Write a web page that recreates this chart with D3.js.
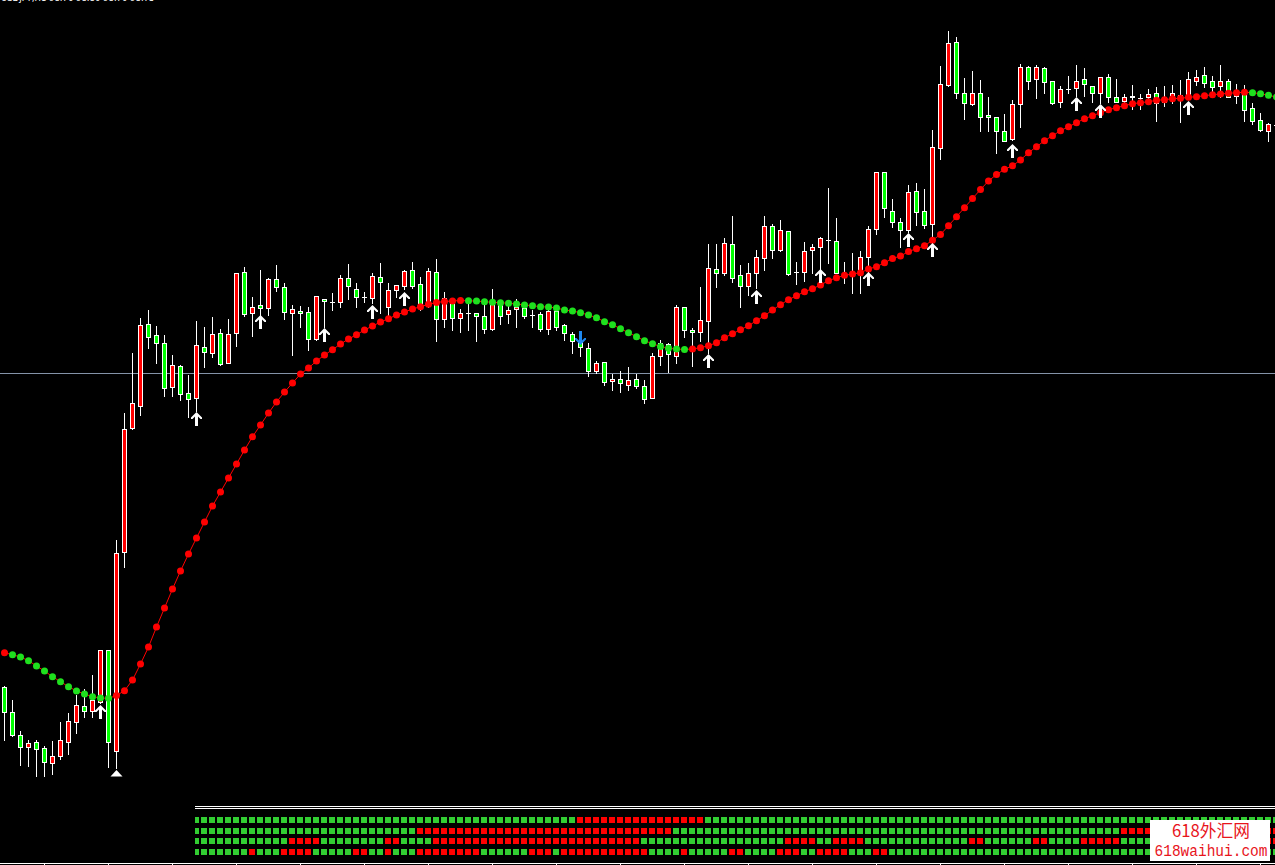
<!DOCTYPE html>
<html><head><meta charset="utf-8">
<script src="https://cdn.jsdelivr.net/npm/d3@7"></script>
<style>html,body{margin:0;padding:0;background:#000;overflow:hidden}</style>
</head><body><svg id="c" width="1275" height="865"></svg>
<script>
// ---- DATA (price values) ----
const symbolLabel = "USDJPY,H1  98.76 98.80 98.70 98.75";
const openP = [93.13,92.88,92.65,92.53,92.58,92.52,92.37,92.44,92.58,92.78,92.94,92.89,92.98,93.50,92.49,94.48,95.72,95.94,96.76,96.65,
96.57,96.13,96.34,96.07,96.02,96.53,96.47,96.67,96.37,96.67,97.28,96.87,96.95,96.92,97.21,97.13,96.87,96.89,96.88,96.61,
97.01,96.98,96.98,97.22,97.11,97.03,97.02,97.23,96.93,97.10,97.14,97.30,97.16,96.94,97.28,96.81,96.98,96.82,96.87,96.87,
96.84,96.71,96.96,96.86,96.91,96.92,96.85,96.86,96.71,96.89,96.75,96.66,96.59,96.52,96.29,96.38,96.19,96.21,96.15,96.21,
96.14,96.02,96.44,96.56,96.44,96.93,96.70,96.68,96.79,97.31,97.27,97.56,97.25,97.14,97.27,97.42,97.74,97.50,97.69,97.28,
97.28,97.50,97.53,97.60,97.59,97.27,97.27,97.27,97.43,97.71,98.28,97.89,97.78,97.70,98.09,97.89,97.76,98.52,99.15,99.58,
99.07,98.96,99.07,98.85,98.83,98.69,98.61,98.96,99.33,99.21,99.32,99.19,98.98,99.11,99.12,99.21,99.14,99.07,99.23,99.03,
98.99,99.04,99.02,99.03,99.07,98.98,99.03,99.05,99.05,99.19,99.25,99.19,99.14,99.19,99.04,99.06,98.92,98.80,98.69,98.75];
const highP = [93.14,93.00,92.69,92.60,92.60,92.54,92.59,92.78,92.87,93.05,93.11,93.25,93.50,93.50,94.60,95.87,96.47,96.82,96.90,96.74,
96.65,96.45,96.35,96.25,96.79,96.73,96.83,96.71,96.81,97.27,97.33,97.03,97.30,97.22,97.35,97.17,96.95,96.94,96.93,97.04,
97.01,97.07,97.25,97.36,97.17,97.08,97.27,97.37,97.17,97.15,97.30,97.38,97.23,97.32,97.41,97.08,97.02,96.91,96.97,96.87,
97.00,97.11,97.00,96.97,97.01,96.97,96.90,96.88,96.90,96.93,96.76,96.68,96.67,96.57,96.39,96.38,96.26,96.29,96.33,96.26,
96.20,96.47,96.60,96.57,96.95,96.93,96.72,97.13,97.56,97.56,97.62,97.84,97.35,97.37,97.50,97.84,97.76,97.80,97.69,97.38,
97.58,97.56,97.63,98.12,97.82,97.38,97.47,97.49,97.74,98.28,98.28,98.01,97.82,98.15,98.17,98.11,98.70,99.34,99.69,99.63,
99.22,99.29,99.20,99.03,98.83,98.86,99.00,99.36,99.34,99.35,99.33,99.19,99.14,99.24,99.35,99.32,99.14,99.23,99.26,99.21,
99.06,99.15,99.06,99.11,99.13,99.14,99.15,99.20,99.28,99.30,99.33,99.24,99.35,99.21,99.16,99.15,98.97,98.87,98.77,98.80];
const lowP = [92.60,92.64,92.35,92.34,92.24,92.24,92.26,92.41,92.46,92.67,92.83,92.83,92.97,92.33,92.32,94.33,95.71,95.85,96.52,96.37,
96.04,96.04,96.00,95.83,95.89,96.33,96.43,96.35,96.37,96.54,96.84,96.64,96.85,96.85,97.09,96.81,96.45,96.73,96.50,96.60,
96.73,96.90,96.93,97.01,96.93,96.98,96.97,96.87,96.84,97.03,97.11,97.12,96.90,96.93,96.59,96.73,96.70,96.68,96.70,96.59,
96.67,96.70,96.76,96.77,96.73,96.82,96.73,96.69,96.66,96.70,96.60,96.47,96.44,96.24,96.27,96.15,96.10,96.08,96.10,96.12,
95.97,96.02,96.35,96.28,96.37,96.63,96.34,96.59,96.47,97.13,97.25,97.18,96.93,97.05,97.12,97.30,97.42,97.49,97.25,97.16,
97.19,97.27,97.30,97.37,97.27,97.17,97.07,97.07,97.28,97.66,97.83,97.73,97.53,97.68,97.75,97.72,97.62,98.41,99.14,99.02,
98.81,98.95,98.69,98.69,98.47,98.59,98.60,98.73,99.11,99.02,99.07,98.96,98.93,99.07,99.04,99.04,98.98,98.97,98.98,98.98,
98.92,98.91,98.91,98.98,98.79,98.94,98.97,98.78,99.03,99.15,99.13,99.09,99.03,99.03,98.97,98.79,98.76,98.69,98.59,98.70];
const closeP = [92.88,92.65,92.53,92.57,92.51,92.38,92.44,92.60,92.79,92.95,92.89,93.00,93.50,92.58,94.47,95.71,95.97,96.75,96.63,96.57,
96.12,96.35,96.06,96.01,96.55,96.48,96.66,96.36,96.66,97.27,96.86,96.93,96.92,97.21,97.13,96.88,96.91,96.87,96.61,97.04,
96.99,96.98,97.22,97.14,97.03,97.03,97.24,97.18,97.10,97.15,97.29,97.14,96.96,97.29,96.81,97.02,96.82,96.87,96.87,96.84,
96.71,96.97,96.84,96.90,96.93,96.84,96.85,96.71,96.89,96.73,96.67,96.59,96.53,96.29,96.37,96.18,96.21,96.17,96.20,96.14,
96.01,96.44,96.57,96.46,96.93,96.70,96.68,96.80,97.32,97.27,97.57,97.22,97.14,97.27,97.43,97.74,97.50,97.70,97.26,97.28,
97.49,97.53,97.62,97.60,97.27,97.27,97.27,97.43,97.71,98.28,97.92,97.78,97.70,98.08,97.88,97.75,98.53,99.16,99.57,99.07,
98.97,99.07,98.83,98.83,98.69,98.59,98.96,99.33,99.19,99.33,99.18,98.97,99.11,99.11,99.19,99.16,99.07,99.23,99.03,98.98,
99.03,99.03,99.02,99.06,98.97,99.03,99.07,99.05,99.21,99.23,99.17,99.13,99.19,99.03,99.07,98.90,98.79,98.70,98.76,98.75];
// moving-average style trend line (one value per bar)
const trendMA = [93.473,93.453,93.43,93.393,93.34,93.29,93.233,93.183,93.133,93.09,93.06,93.033,93.02,93.017,93.045,93.093,93.2,93.36,93.53,93.73,
93.92,94.11,94.29,94.46,94.62,94.78,94.94,95.08,95.22,95.36,95.5,95.633,95.75,95.87,95.98,96.08,96.17,96.26,96.32,96.39,
96.45,96.503,96.56,96.61,96.653,96.7,96.74,96.78,96.813,96.85,96.88,96.91,96.933,96.957,96.975,96.985,96.991,96.994,96.992,96.989,
96.983,96.977,96.973,96.967,96.96,96.95,96.943,96.933,96.929,96.92,96.9,96.89,96.873,96.85,96.823,96.783,96.753,96.713,96.673,96.633,
96.593,96.563,96.535,96.517,96.509,96.506,96.51,96.523,96.543,96.573,96.623,96.663,96.703,96.743,96.793,96.843,96.9,96.953,97.003,97.043,
97.083,97.113,97.15,97.193,97.223,97.247,97.26,97.273,97.31,97.333,97.373,97.415,97.44,97.485,97.513,97.542,97.598,97.655,97.743,97.833,
97.923,98.015,98.105,98.19,98.255,98.307,98.343,98.4,98.473,98.533,98.593,98.643,98.693,98.733,98.773,98.813,98.843,98.873,98.903,98.923,
98.943,98.963,98.973,98.983,98.997,99.003,99.013,99.017,99.027,99.033,99.043,99.053,99.06,99.067,99.073,99.077,99.073,99.063,99.047,99.03];
// buy arrows: bar index and price level of the arrow tip
const buyArrowBar = [12,24,32,40,46,50,88,94,102,108,113,116,126,134,137,148];
const buyArrowPrice = [92.95,95.88,96.85,96.72,96.95,97.08,96.46,97.10,97.31,97.28,97.67,97.57,98.56,99.03,98.96,98.99];
const sellArrowBar = [72];
const sellArrowPrice = [96.69];   // price at the arrow tail (top)
const markerBar = [14];
const markerPrice = [92.30];
const levelLine = 96.27;
// signal bars panel: first bar with a visible cell, then 4 rows (G = up, R = down)
const signalStart = 24;
const signalRows = [
 "GGGGGG GGGGGGGGGG GGGGGGGGGG GGGGGGGGGG GGGGGGGGGG GGRRRRRRRR RRRRRRRRGG GGGGGGGGGG GGGGGGGGGG GGGGGGGGGG GGGGGGGGGG GGGGGGGGGG GGGGGGGGGG GGGGGGGGGG",
 "GGGGGG GGGGGGGGGG GGGGGGGGGG GGRRRRRRRR RRRRRRRRRR RRRRRRRRRR RRRRGGGGGG GGGGGGGGGG GGGGGGGGGG GGGGGGGGGG GGGGGGGGGG GGGGGGGGGG RRRRGGGGGG GGGGGGRRRR",
 "GGGGGG GGGGGGRRRR GGGGGGGGRR GGGGRRRRRR RRRRRRRRRR RRRRRRRRRR GGGGGGGGGG GGGGGGGGRR RRGGRRRRGG GGGGGGGGGG GRRGGGGGGR RGGGGRRRRR GGGGGGGGGG GGGGGGRRRR",
 "GGGGGG GRGGGRRRRG GGGGRRGGRG GGRRRRRRRR GGGGGGRRRG RRRRRRRRRR RGGGGRGGGG GRRGGGGRRR GGRRRRGGGR RGGGGGGGGG GGGGGGGGGG GGGGGGGGGG GGGGGGGGGG GGGGGGGGGG"
].map(s => s.replace(/ /g, "").split(""));

// ---- DRAWING ----
const W = 1275, H = 865;
const n = openP.length;
const svg = d3.select("#c");
svg.append("rect").attr("width", W).attr("height", H).attr("fill", "#000");

const x = d3.scaleLinear().domain([0, n - 1]).range([4.5, 4.5 + 8 * (n - 1)]);
const y = d3.scaleLinear().domain([91.35, 100]).range([865, 0]);

// header text (cut at the top edge, as in the source)
svg.append("text").attr("x", 1).attr("y", 1.2).attr("fill", "#fff")
  .attr("font-family", "DejaVu Sans").attr("font-size", 8.5).text(symbolLabel);

// level line
svg.append("line").attr("x1", 0).attr("x2", W)
  .attr("y1", Math.round(y(levelLine)) + 0.5).attr("y2", Math.round(y(levelLine)) + 0.5)
  .attr("stroke", "#8493a8").attr("stroke-width", 1);

// candles
const bars = d3.range(n).map(i => ({i, o: openP[i], h: highP[i], l: lowP[i], c: closeP[i]}));
const cg = svg.append("g").attr("shape-rendering", "crispEdges");
cg.selectAll("line.w").data(bars).join("line")
  .attr("x1", d => x(d.i)).attr("x2", d => x(d.i))
  .attr("y1", d => Math.round(y(d.h))).attr("y2", d => Math.round(y(d.l)) + 1)
  .attr("stroke", "#fff").attr("stroke-width", 1);
cg.selectAll("rect.b").data(bars.filter(d => d.o !== d.c)).join("rect")
  .attr("x", d => x(d.i) - 2).attr("width", 4)
  .attr("y", d => Math.round(y(Math.max(d.o, d.c))) + 0.5)
  .attr("height", d => Math.max(1, Math.round(Math.abs(y(d.o) - y(d.c)))))
  .attr("fill", d => d.c > d.o ? "#ff0000" : "#00ff00")
  .attr("stroke", "#fff").attr("stroke-width", 1);
cg.selectAll("line.d").data(bars.filter(d => d.o === d.c)).join("line")
  .attr("x1", d => x(d.i) - 2.5).attr("x2", d => x(d.i) + 2.5)
  .attr("y1", d => Math.round(y(d.o)) + 0.5).attr("y2", d => Math.round(y(d.o)) + 0.5)
  .attr("stroke", "#fff").attr("stroke-width", 1);

// trend line with dots
svg.append("path").datum(trendMA)
  .attr("d", d3.line().x((d, i) => x(i)).y(d => y(d)))
  .attr("fill", "none").attr("stroke", "#ff0000").attr("stroke-width", 1);
svg.append("g").selectAll("circle").data(trendMA).join("circle")
  .attr("cx", (d, i) => x(i)).attr("cy", d => y(d)).attr("r", 3.5)
  .attr("fill", (d, i) => (i === 0 || d > trendMA[i - 1]) ? "#ff0000" : "#1ee01e");

// arrows
const upArrow = "M0,0 L5.5,5.5 L5.5,7 L4,7 L1.5,4.5 L1.5,14 L-1.5,14 L-1.5,4.5 L-4,7 L-5.5,7 L-5.5,5.5 Z";
const downArrow = "M0,14 L5.5,8.5 L5.5,7 L4,7 L1.5,9.5 L1.5,0 L-1.5,0 L-1.5,9.5 L-4,7 L-5.5,7 L-5.5,8.5 Z";
svg.append("g").selectAll("path").data(buyArrowBar).join("path")
  .attr("d", upArrow)
  .attr("transform", (b, k) => `translate(${x(b)},${Math.round(y(buyArrowPrice[k]))})`)
  .attr("fill", "#fff");
svg.append("g").selectAll("path").data(sellArrowBar).join("path")
  .attr("d", downArrow)
  .attr("transform", (b, k) => `translate(${x(b)},${Math.round(y(sellArrowPrice[k]))})`)
  .attr("fill", "#1e88f0");
svg.append("g").selectAll("path").data(markerBar).join("path")
  .attr("d", "M0,0 L6,6.5 L-6,6.5 Z")
  .attr("transform", (b, k) => `translate(${x(b)},${Math.round(y(markerPrice[k]))})`)
  .attr("fill", "#fff");

// ---- signal panel ----
svg.append("defs").append("clipPath").attr("id", "sp")
  .append("rect").attr("x", 195).attr("y", 795).attr("width", W - 195).attr("height", 70);
const pg = svg.append("g").attr("shape-rendering", "crispEdges");
pg.append("line").attr("x1", 195).attr("x2", W).attr("y1", 806.5).attr("y2", 806.5).attr("stroke", "#fff");
pg.append("line").attr("x1", 195).attr("x2", W).attr("y1", 808.5).attr("y2", 808.5).attr("stroke", "#fff");
const rowTop = [817, 828, 838, 849];
const cells = [];
signalRows.forEach((row, r) => row.forEach((s, k) => cells.push({r, i: signalStart + k, s})));
pg.append("g").attr("clip-path", "url(#sp)").selectAll("rect").data(cells).join("rect")
  .attr("x", d => x(d.i) - 3.5).attr("width", 6)
  .attr("y", d => rowTop[d.r]).attr("height", 6)
  .attr("fill", d => d.s === "G" ? "#32cd32" : "#ff0000");

// bottom time axis line with ticks
pg.append("line").attr("x1", 0).attr("x2", W).attr("y1", 863.5).attr("y2", 863.5).attr("stroke", "#fff");
pg.selectAll("line.t").data(d3.range(0, 20)).join("line")
  .attr("x1", k => 44.5 + 64 * k).attr("x2", k => 44.5 + 64 * k)
  .attr("y1", 863).attr("y2", 865).attr("stroke", "#fff");

// watermark
svg.append("rect").attr("x", 1150).attr("y", 820).attr("width", 120).attr("height", 41).attr("fill", "#fff");
svg.append("text").attr("x", 1211).attr("y", 837).attr("text-anchor", "middle")
  .attr("font-family", "Noto Sans CJK SC").attr("font-size", 17).attr("fill", "#e8141c")
  .attr("textLength", 78).attr("lengthAdjust", "spacingAndGlyphs").text("618外汇网");
svg.append("text").attr("x", 1211).attr("y", 856).attr("text-anchor", "middle")
  .attr("font-family", "Liberation Mono").attr("font-size", 16).attr("fill", "#e8141c")
  .attr("textLength", 113).attr("lengthAdjust", "spacingAndGlyphs").text("618waihui.com");
</script></body></html>
